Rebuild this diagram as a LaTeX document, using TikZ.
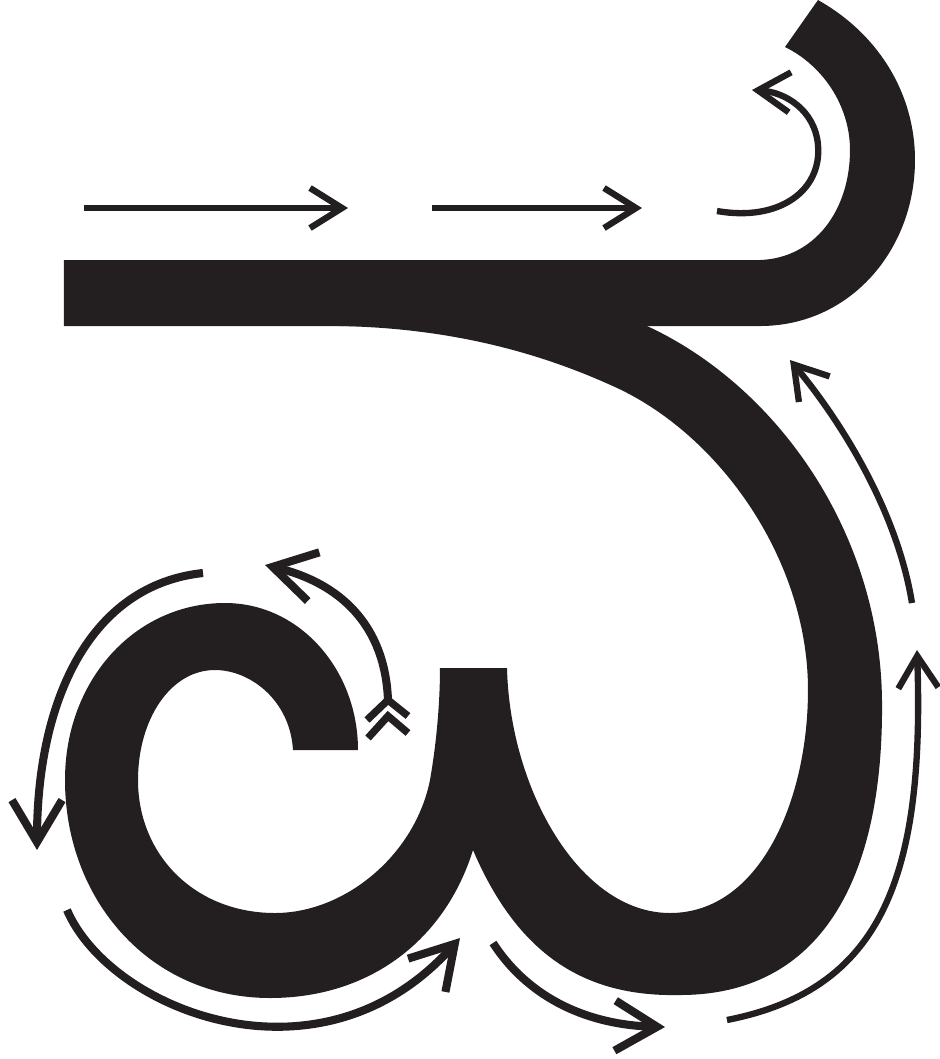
\documentclass[tikz,border=0pt]{standalone}
\usepackage{xcolor}
\usepackage{tikz}
\usetikzlibrary{arrows.meta}
\definecolor{ink}{HTML}{231F20}
\tikzset{
  glyph/.style={fill=ink, draw=none},
  guide/.style={draw=ink, line width=1.8pt, ->},
  guidebold/.style={draw=ink, line width=2.3pt, -{Straight Barb[length=4.2mm,width=5mm]}},
  fletch/.style={draw=ink, line width=2.1pt, line cap=butt},
}

\begin{document}
\begin{tikzpicture}[x=0.01cm, y=-0.01cm, >={Straight Barb[length=3.2mm,width=4mm]}]
    \useasboundingbox (0,0) rectangle (940,1059);
    % bar and hook
    \fill[glyph] (64,260) -- (760,260) .. controls (815,258) and (850,210) .. (850,150)
      .. controls (850,105) and (822,65) .. (785,47) -- (818,0)
      .. controls (880,35) and (915,95) .. (915,160)
      .. controls (915,250) and (850,326) .. (760,326) -- (64,326) -- cycle;
    % big loop, stem and small bowl
    \fill[glyph] (300,320) -- (660,320) -- (647,326)
      .. controls (775,385) and (880,530) .. (882,700)
      .. controls (884,880) and (820,995) .. (680,995)
      .. controls (590,997) and (520,960) .. (473,850)
      .. controls (445,940) and (370,998) .. (270,998)
      .. controls (150,998) and (65,900) .. (65,780)
      .. controls (65,680) and (135,603) .. (225,603)
      .. controls (300,603) and (358,670) .. (358,750) -- (293,750)
      .. controls (290,700) and (250,670) .. (215,670)
      .. controls (170,670) and (138,720) .. (138,780)
      .. controls (138,855) and (195,913) .. (275,913)
      .. controls (345,913) and (415,855) .. (430,780)
      .. controls (437,740) and (440,700) .. (440,668) -- (507,668)
      .. controls (510,790) and (580,913) .. (670,913)
      .. controls (760,913) and (808,800) .. (808,690)
      .. controls (808,560) and (720,435) .. (615,387)
      .. controls (530,348) and (440,328) .. (340,326) -- cycle;
    % stroke order arrows
    \draw[guide] (84,208) -- (348,208);
    \draw[guide] (432,208) -- (642,208);
    \draw[guide] (717,211) .. controls (780,222) and (822,190) .. (818,145)
      .. controls (815,110) and (785,92) .. (752,90);
    \draw[guide] (912,603) .. controls (897,510) and (840,420) .. (790,360);
    \draw[guide] (727,1020) .. controls (880,990) and (925,880) .. (917,650);
    \draw[guidebold] (493,943) .. controls (530,1000) and (590,1025) .. (665,1027);
    \draw[guidebold] (67,910) .. controls (110,1010) and (320,1095) .. (460,938);
    \draw[guidebold] (203,573) .. controls (90,585) and (37,700) .. (37,850);
    \draw[guidebold] (388,700) .. controls (385,625) and (340,583) .. (265,565);
    \draw[fletch] (367,720) -- (388,700) -- (408,716);
    \draw[fletch] (368,738) -- (388,716) -- (408,733);
\end{tikzpicture}
\end{document}
